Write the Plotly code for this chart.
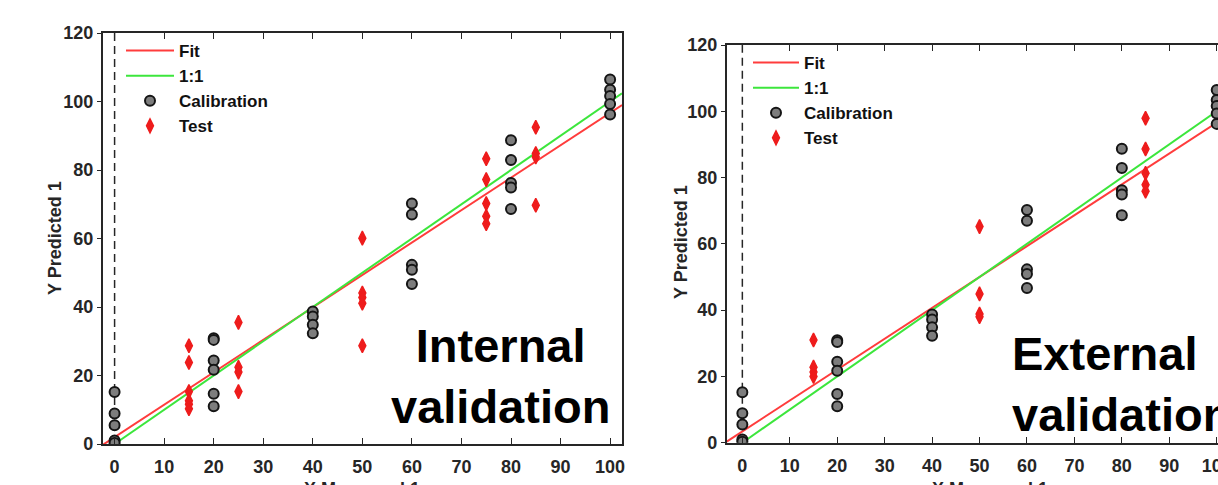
import plotly.graph_objects as go

# ---------------- data ----------------
cal_x = [0] * 5 + [20] * 6 + [40] * 4 + [60] * 5 + [80] * 5 + [100] * 5
cal_y = [15.2, 8.9, 5.5, 1.0, 0.3,
         30.9, 30.4, 24.4, 21.7, 14.7, 11.0,
         38.7, 37.2, 34.8, 32.3,
         70.2, 67.0, 52.3, 50.9, 46.7,
         88.7, 82.9, 76.2, 74.9, 68.6,
         106.4, 103.4, 101.6, 99.3, 96.2]

int_test_x = [15] * 6 + [25] * 4 + [50] * 5 + [75] * 5 + [85] * 4
int_test_y = [28.7, 23.8, 15.3, 12.6, 11.6, 10.3,
              35.5, 22.4, 21.0, 15.3,
              60.1, 44.1, 42.8, 41.1, 28.7,
              83.3, 77.2, 70.2, 66.5, 64.3,
              92.5, 84.8, 83.8, 69.7]

ext_test_x = [15] * 4 + [50] * 4 + [85] * 5
ext_test_y = [31.0, 22.8, 21.3, 20.0,
              65.2, 44.9, 38.8, 38.0,
              97.9, 88.6, 81.3, 77.8, 75.9]

int_fit = {"slope": 0.947, "intercept": 2.0}
ext_fit = {"slope": 0.932, "intercept": 3.4}

int_xlim = [-2.4, 102.4]
ext_xlim = [-3.3, 100.27]
ylim = [0, 120]

x_ticks = [0, 10, 20, 30, 40, 50, 60, 70, 80, 90, 100]
y_ticks = [0, 20, 40, 60, 80, 100, 120]

legend_names = ["Fit", "1:1", "Calibration", "Test"]
panel_texts = ["Internal<br>validation", "External<br>validation"]
x_title = "X Measured 1"
y_title = "Y Predicted 1"

# ---------------- style ----------------
FONT = "Liberation Sans, Arial, sans-serif"
AXC = "#262626"
RED_LINE = "#ff3c3c"
GREEN_LINE = "#3ce63c"
RED_MK = "#ee1c1c"
GRAY_MK = "#7d7d7d"

W, H = 1218, 485


def px(X):
    return X / W


def py(Y):
    return 1 - Y / H


fig = go.Figure()


def add_panel(xa, ya, leg, xlim, fit, test_x, test_y):
    fx = list(xlim)
    fy = [fit["intercept"] + fit["slope"] * v for v in fx]
    fig.add_trace(go.Scatter(x=fx, y=fy, mode="lines", name=legend_names[0],
                             line=dict(color=RED_LINE, width=2),
                             xaxis=xa, yaxis=ya, legend=leg, hoverinfo="skip"))
    ox = [0, xlim[1]]
    fig.add_trace(go.Scatter(x=ox, y=ox, mode="lines", name=legend_names[1],
                             line=dict(color=GREEN_LINE, width=2),
                             xaxis=xa, yaxis=ya, legend=leg, hoverinfo="skip"))
    fig.add_trace(go.Scatter(x=cal_x, y=cal_y, mode="markers", name=legend_names[2],
                             marker=dict(symbol="circle", size=10, color=GRAY_MK,
                                         line=dict(color="#151515", width=2)),
                             xaxis=xa, yaxis=ya, legend=leg))
    fig.add_trace(go.Scatter(x=test_x, y=test_y, mode="markers", name=legend_names[3],
                             marker=dict(symbol="diamond-tall", size=10, color=RED_MK,
                                         line=dict(color=RED_MK, width=1.4)),
                             xaxis=xa, yaxis=ya, legend=leg))


add_panel("x", "y", "legend", int_xlim, int_fit, int_test_x, int_test_y)
add_panel("x2", "y2", "legend2", ext_xlim, ext_fit, ext_test_x, ext_test_y)

tickfont = dict(family=FONT, size=18, color=AXC, weight="bold")

common_x = dict(tickvals=x_ticks, ticks="inside", ticklen=6, tickwidth=1.2,
                tickcolor=AXC, showline=True, linecolor=AXC, linewidth=1.5,
                mirror="ticks", showgrid=False, zeroline=False, tickfont=tickfont,
                automargin=False, fixedrange=True, ticklabelstandoff=6,
                ticklabeloverflow="allow")
common_y = dict(tickvals=y_ticks, ticks="outside", ticklen=4, tickwidth=1.2,
                tickcolor=AXC, showline=True, linecolor=AXC, linewidth=1.5,
                showgrid=False, zeroline=False, tickfont=tickfont,
                automargin=False, range=ylim, fixedrange=True)

legfont = dict(family=FONT, size=17, color="#111", weight="bold")

fig.update_layout(
    width=W, height=H,
    margin=dict(l=0, r=0, t=0, b=0),
    paper_bgcolor="white", plot_bgcolor="white",
    xaxis=dict(common_x, domain=[px(102.7), px(622)], range=int_xlim, anchor="y"),
    yaxis=dict(common_y, domain=[py(444), py(33)], anchor="x", mirror=True),
    yaxis3=dict(overlaying="y", side="right", anchor="x", range=ylim, tickvals=y_ticks,
                ticks="inside", ticklen=5, tickwidth=1.2, tickcolor=AXC,
                showticklabels=False, showline=False, showgrid=False, zeroline=False,
                fixedrange=True),
    xaxis2=dict(common_x, domain=[px(726.7), 1.0], range=ext_xlim, anchor="y2"),
    yaxis2=dict(common_y, domain=[py(442.7), py(45)], anchor="x2", mirror=False),
    legend=dict(x=px(121), y=py(33), xanchor="left", yanchor="top",
                bgcolor="rgba(0,0,0,0)", itemwidth=48, font=legfont),
    legend2=dict(x=px(748), y=py(45), xanchor="left", yanchor="top",
                 bgcolor="rgba(0,0,0,0)", itemwidth=46, font=legfont),
    showlegend=True,
)

# dashed vertical reference lines at x = 0
for xr, yr in [("x", "y domain"), ("x2", "y2 domain")]:
    fig.add_shape(type="line", x0=0, x1=0, y0=0, y1=1, xref=xr, yref=yr,
                  line=dict(color=AXC, width=1.5, dash="8px,5px"), layer="below")

ann_font = dict(family=FONT, size=18, color=AXC, weight="bold")
# axis titles
for xx, yy in [(55, 238), (681, 242)]:
    fig.add_annotation(text=y_title, x=px(xx), y=py(yy), xref="paper", yref="paper",
                       xanchor="center", yanchor="middle",
                       textangle=-90, showarrow=False, font=ann_font)
for xx in [362, 990]:
    fig.add_annotation(text=x_title, x=px(xx), y=py(477), xref="paper", yref="paper",
                       xanchor="center", yanchor="top", showarrow=False, font=ann_font)

big = dict(family=FONT, size=47, color="black", weight="bold")
fig.add_annotation(text=panel_texts[0], x=px(500), y=py(376), xref="paper", yref="paper",
                   xanchor="center", yanchor="middle", align="center",
                   showarrow=False, font=big)
fig.add_annotation(text=panel_texts[1], x=px(1010), y=py(384), xref="paper", yref="paper",
                   xanchor="left", yanchor="middle", align="left",
                   showarrow=False, font=big)

# remove the default page margin so the figure fills the window exactly
page_css = ("document.body.style.margin='0';"
            "document.body.style.overflow='hidden';"
            "document.documentElement.style.overflow='hidden';")
fig.write_html("out.html", post_script=page_css, config={"displayModeBar": False})
